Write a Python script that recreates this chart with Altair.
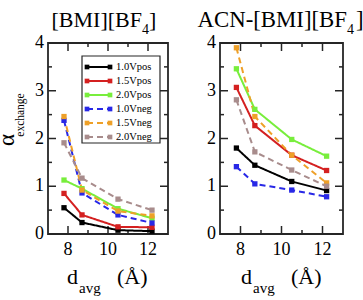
import altair as alt
import pandas as pd

FONT = "Liberation Serif"
INK = "#262626"

# Series definitions
series = ["1.0Vpos", "1.5Vpos", "2.0Vpos", "1.0Vneg", "1.5Vneg", "2.0Vneg"]
colors = ["#000000", "#d42020", "#78ee3c", "#2828e6", "#eea028", "#a88c8c"]
dashes = [[1, 0], [1, 0], [1, 0], [6, 4], [6, 4], [6, 4]]

# Average inter-electrode distance (Å)
d_avg = [7.8, 8.7, 10.5, 12.2]

# [BMI][BF4]
il_1p0pos = [0.55, 0.24, 0.08, 0.06]
il_1p5pos = [0.85, 0.40, 0.15, 0.14]
il_2p0pos = [1.13, 0.95, 0.53, 0.33]
il_1p0neg = [2.38, 0.86, 0.40, 0.23]
il_1p5neg = [2.46, 0.92, 0.48, 0.38]
il_2p0neg = [1.91, 1.17, 0.73, 0.50]

# ACN-[BMI][BF4]
acn_1p0pos = [1.80, 1.44, 1.10, 0.91]
acn_1p5pos = [3.07, 2.27, 1.65, 1.33]
acn_2p0pos = [3.46, 2.61, 1.98, 1.63]
acn_1p0neg = [1.41, 1.05, 0.92, 0.78]
acn_1p5neg = [3.90, 2.46, 1.65, 1.07]
acn_2p0neg = [2.81, 1.72, 1.34, 1.00]

# Axis ticks
x_major = [8, 10, 12]
x_minor = [9, 11]
x_labels = ["8", "10", "12"]
y_major = [0, 1, 2, 3, 4]
y_minor = [0.5, 1.5, 2.5, 3.5]
y_labels = ["0", "1", "2", "3", "4"]


def long_table(values):
    rows = []
    for name, ys in zip(series, values):
        for x, y in zip(d_avg, ys):
            rows.append({"series": name, "d": x, "alpha": y})
    return pd.DataFrame(rows)


il_df = long_table([il_1p0pos, il_1p5pos, il_2p0pos, il_1p0neg, il_1p5neg, il_2p0neg])
acn_df = long_table([acn_1p0pos, acn_1p5pos, acn_2p0pos, acn_1p0neg, acn_1p5neg, acn_2p0neg])

one = pd.DataFrame({"k": [0]})
color_enc = alt.Color("series:N", scale=alt.Scale(domain=series, range=colors), legend=None)
dash_enc = alt.StrokeDash("series:N", scale=alt.Scale(domain=series, range=dashes), legend=None)
y_scale = alt.Scale(domain=[0, 4], range=[234, 43], nice=False, zero=False)


def label(text, x, y, size, align="left", angle=0):
    props = dict(text=text, font=FONT, fontSize=size, align=align,
                 baseline="alphabetic", color="black")
    if angle:
        props["angle"] = angle
    return alt.Chart(one).mark_text(**props).encode(x=alt.value(x), y=alt.value(y))


def panel(df, x_range, ylab_x, title_parts, title_size, xtitle_x):
    xs = alt.Scale(domain=[7, 13], range=x_range, nice=False, zero=False)

    def X(f):
        return alt.X(f, type="quantitative", scale=xs, axis=None)

    def Y(f):
        return alt.Y(f, type="quantitative", scale=y_scale, axis=None)

    xd = lambda v: alt.XDatum(v, axis=None)
    yd = lambda v: alt.YDatum(v, axis=None)

    frame = alt.Chart(one).mark_rect(fillOpacity=0, stroke=INK, strokeWidth=1.8).encode(
        x=xd(7), x2=alt.X2Datum(13), y=yd(0), y2=alt.Y2Datum(4))

    layers = [frame]
    for vals, ln in ((x_major, 8), (x_minor, 4)):
        t = pd.DataFrame({"v": vals})
        layers.append(alt.Chart(t).mark_rule(color=INK, strokeWidth=1.5, y2Offset=-ln).encode(
            x=X("v"), y=yd(0), y2=alt.Y2Datum(0)))
        layers.append(alt.Chart(t).mark_rule(color=INK, strokeWidth=1.5, y2Offset=ln).encode(
            x=X("v"), y=yd(4), y2=alt.Y2Datum(4)))
    for vals, ln in ((y_major, 8), (y_minor, 4)):
        t = pd.DataFrame({"v": vals})
        layers.append(alt.Chart(t).mark_rule(color=INK, strokeWidth=1.5, x2Offset=ln).encode(
            y=Y("v"), x=xd(7), x2=alt.X2Datum(7)))
        layers.append(alt.Chart(t).mark_rule(color=INK, strokeWidth=1.5, x2Offset=-ln).encode(
            y=Y("v"), x=xd(13), x2=alt.X2Datum(13)))

    layers.append(alt.Chart(df).mark_line(strokeWidth=2).encode(
        x=X("d"), y=Y("alpha"), color=color_enc, strokeDash=dash_enc))
    layers.append(alt.Chart(df).mark_square(size=28, opacity=1).encode(
        x=X("d"), y=Y("alpha"), color=color_enc))

    xl = pd.DataFrame({"v": x_major, "t": x_labels})
    layers.append(alt.Chart(xl).mark_text(font=FONT, fontSize=18, align="center",
                                          baseline="alphabetic", color="black").encode(
        x=X("v"), y=alt.value(255), text="t:N"))
    yl = pd.DataFrame({"v": y_major, "t": y_labels})
    layers.append(alt.Chart(yl).mark_text(font=FONT, fontSize=18, align="right",
                                          baseline="middle", color="black").encode(
        x=alt.value(ylab_x), y=Y("v"), text="t:N"))

    # panel title with subscript
    main, sub_x, close_x = title_parts
    layers.append(label(main, sub_x, 27, title_size, align="right"))
    layers.append(label("4", sub_x, 34, 14))
    layers.append(label("]", close_x, 27, title_size))

    # x-axis title: d_avg (Å)
    layers.append(label("d", xtitle_x, 284, 22))
    layers.append(label("avg", xtitle_x + 12, 293, 15))
    layers.append(label("(Å)", xtitle_x + 50, 284, 22))
    return alt.layer(*layers)


left = panel(il_df, [48, 168], 44, ("[BMI][BF", 142, 149), 22, 67)
right = panel(acn_df, [220, 343], 216, ("ACN-[BMI][BF", 347, 356), 22.8, 241)

# y-axis title: α_exchange
ytitle = alt.layer(
    label("α", 14, 140, 23, align="center", angle=270),
    label("exchange", 24, 115, 11.5, align="center", angle=270),
)

# legend box inside the left panel
leg = pd.DataFrame({"series": series})
ly = alt.Y("series:N", scale=alt.Scale(type="point", domain=series, range=[67, 137], padding=0),
           axis=None)
legend = alt.layer(
    alt.Chart(one).mark_rect(fill="white", stroke=INK, strokeWidth=1.2).encode(
        x=alt.value(82), x2=alt.value(160), y=alt.value(56), y2=alt.value(143)),
    alt.Chart(leg).mark_rule(strokeWidth=2).encode(
        x=alt.value(87), x2=alt.value(110), y=ly, color=color_enc, strokeDash=dash_enc),
    alt.Chart(leg).mark_square(size=22, opacity=1).encode(x=alt.value(87), y=ly, color=color_enc),
    alt.Chart(leg).mark_square(size=22, opacity=1).encode(x=alt.value(110), y=ly, color=color_enc),
    alt.Chart(leg).mark_text(font=FONT, fontSize=10.5, align="left", baseline="middle",
                             color="black").encode(x=alt.value(116), y=ly, text="series:N"),
)

chart = (
    alt.layer(left, right, legend, ytitle)
    .resolve_scale(x="independent", y="independent")
    .properties(width=363, height=300, autosize=alt.AutoSizeParams(type="none"), padding=0)
    .configure_view(strokeWidth=0)
)

chart.save("out.html", embed_options={"renderer": "svg", "actions": False})
